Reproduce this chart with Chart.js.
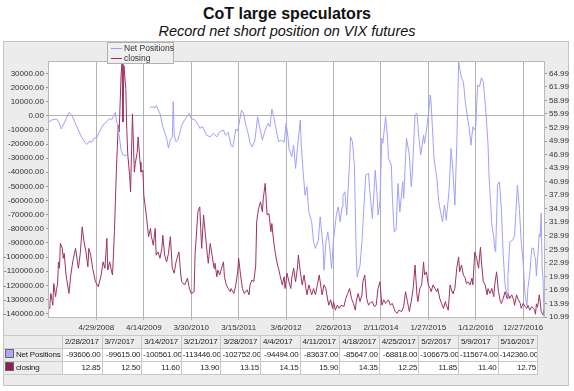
<!DOCTYPE html>
<html>
<head>
<meta charset="utf-8">
<script src="https://cdn.jsdelivr.net/npm/chart.js@4"></script>
<style>
  body { margin: 0; width: 574px; height: 391px; background: #fff; font-family: "Liberation Sans", Arial, sans-serif; position: relative; overflow: hidden; }
  #title { position: absolute; left: 0; top: 5px; width: 574px; text-align: center; font-weight: bold; font-size: 16px; color: #111; }
  #subtitle { position: absolute; left: 0; top: 23px; width: 574px; text-align: center; font-style: italic; font-size: 14.5px; color: #111; }
  #panel { position: absolute; left: 3px; top: 41px; width: 564px; height: 343px; background: #ececec; border: 1px solid #c4c4c4; }
  #chart { position: absolute; left: 0; top: 0; }
  #legend { position: absolute; left: 107px; top: 42px; width: 65px; height: 20px; background: #efefef; border: 1px solid #b0b0b0;
    font-size: 8.5px; color: #333; white-space: nowrap; }
  #legend div { height: 10px; line-height: 10px; position: relative; padding-left: 16px; }
  #legend span { position: absolute; left: 3px; top: 5px; width: 11px; height: 1px; }
  #table { position: absolute; left: 3px; top: 335px; border-collapse: collapse; table-layout: fixed; width: 534px;
    font-size: 8px; letter-spacing: -0.2px; color: #222; }
  #table td { border: 1px solid #c8c8c8; height: 12px; line-height: 12px; padding: 0 1px; white-space: nowrap; overflow: hidden; }
  #table td.num { background: #fff; text-align: right; }
  #table td.hd { text-align: left; padding-left: 2px; }
  #table td.lab { padding: 0 1px; }
  .sq { display: inline-block; width: 9px; height: 9px; vertical-align: -1px; margin-right: 2px; border: 1px solid #666; box-sizing: border-box; }
</style>
</head>
<body>
<div id="title">CoT large speculators</div>
<div id="subtitle">Record net short position on VIX futures</div>
<div id="panel"></div>
<canvas id="chart" width="574" height="391"></canvas>
<div id="legend">
  <div><span style="background:#9a9aff"></span>Net Positions</div>
  <div><span style="background:#9b2d5c"></span>closing</div>
</div>
<table id="table"></table>
<script>
// x = weeks since 5/15/2007 (weekly Tuesday data)
const xTickWeeks = [50, 100, 150, 200, 250, 300, 350, 400, 450, 500];
const xTickLabels = ['4/29/2008', '4/14/2009', '3/30/2010', '3/15/2011', '3/6/2012',
  '2/26/2013', '2/11/2014', '1/27/2015', '1/12/2016', '12/27/2016'];
const leftTicks = [30000, 20000, 10000, 0, -10000, -20000, -30000, -40000, -50000, -60000,
  -70000, -80000, -90000, -100000, -110000, -120000, -130000, -140000];
const rightTicks = [64.99, 61.99, 58.99, 55.99, 52.99, 49.99, 46.99, 43.99, 40.99, 37.99,
  34.99, 31.99, 28.99, 25.99, 22.99, 19.99, 16.99, 13.99, 10.99];

// last 12 weeks, shown in the table
const tableWeeks = [511, 512, 513, 514, 515, 516, 517, 518, 519, 520, 521, 522];
const tableDates = ['2/28/2017', '3/7/2017', '3/14/2017', '3/21/2017', '3/28/2017', '4/4/2017',
  '4/11/2017', '4/18/2017', '4/25/2017', '5/2/2017', '5/9/2017', '5/16/2017'];
const tableNet = [-93606, -99615, -100561, -113446, -102752, -94494, -83637, -85647, -68818, -106675, -115674, -142360];
const tableClose = [12.85, 12.50, 11.60, 13.90, 13.15, 14.15, 15.90, 14.35, 12.25, 11.85, 11.40, 12.75];

// Net Positions (left axis), null = missing data
const netWeeks = [0, 3, 8, 11, 13, 17, 21, 24, 27, 31, 34, 38, 40, 43, 45, 48, 50, 54, 57, 61,
  64, 66, 70, 71, 73, 76, 78, 82, 90, 106, 108, 112, 113, 117, 120, 124, 126, 128, 130, 131,
  132, 134, 136, 140, 143, 148, 150, 154, 157, 159, 162, 166, 170, 173, 177, 180, 184, 186, 189, 192,
  194, 197, 199, 203, 205, 208, 210, 212, 214, 217, 220, 222, 225, 228, 231, 233, 235, 237, 239, 242,
  245, 248, 250, 252, 253, 256, 258, 260, 262, 265, 266, 268, 270, 272, 274, 277, 279, 281, 284, 286,
  289, 290, 292, 294, 296, 298, 300, 303, 305, 307, 309, 310, 312, 314, 317, 318, 320, 322, 324, 325,
  328, 330, 332, 334, 337, 338, 341, 344, 346, 347, 349, 351, 352, 355, 357, 358, 361, 362, 364, 366,
  368, 370, 373, 374, 377, 380, 382, 383, 386, 388, 390, 392, 395, 396, 399, 401, 402, 403, 406, 409,
  411, 413, 415, 417, 419, 422, 424, 426, 428, 430, 432, 433, 435, 437, 439, 442, 443, 445, 447, 449,
  450, 452, 454, 456, 458, 461, 463, 464, 467, 469, 470, 471, 473, 475, 477, 479, 481, 483, 484, 486,
  489, 491, 494, 496, 498, 500, 502, 504, 505, 507, 509];
const netValues = [-4250, -3000, -2300, -5400, -9400, -3750, 2400, 500, -4250, -10100, -14900, -18800, -20300, -17900, -18800, -15600, -16000, -10100, -6600, -4200,
  -1900, -3000, 2400, -3000, -8900, -24300, -27800, -28300, null, 5200, 6400, 5700, 7100, 1700, -7800, -16000, -22700, -17200, -14900, 9900,
  -13700, -18400, -17200, -6600, -3000, 1700, -1900, -3000, -6100, -8900, -7800, -13700, -14900, -12500, -14900, -11300, -10100, -13700, -11800, -21200,
  -22000, -9400, -10800, 4000, 1700, -7800, -12500, -19500, -22000, -17900, -700, -7800, -17200, -10100, -5400, -7800, 4700, -700, -7800, -18400,
  -17200, -18800, -5400, -14900, -23100, -29000, -20800, -37300, -23100, -3000, -20800, -39700, -56200, -50300, -68000, -75100, -89200, -93900, -88000, -71500,
  -92700, -109300, -89200, -82200, -92700, -108100, -88000, -70300, -64400, -75100, -64400, -56200, -53800, -70300, -32600, -14900, -18400, -34900, -98700, -114000,
  -105700, -89200, -65600, -42000, -40800, -51400, -72700, -38500, -56200, -70300, -60900, -16000, -19500, -700, -16000, -30200, -34900, -56200, -82200, -80900,
  -47900, -68000, -46700, -58500, -16000, -27800, -50300, -42000, 500, 1700, -14900, -27800, -13700, -19500, -5400, 6400, 14700, 8800, -30200, -44300,
  -60900, -68000, -75100, -63200, -73900, -51400, -23100, -39700, -63200, -20800, 38000, 33600, 26500, 24100, 9900, -4200, -7800, -20800, -7800, -10100,
  -7800, 21700, 20500, 26900, 24100, 500, -20800, -42000, -77400, -85700, -93900, -96300, -49100, -46700, -65600, -98700, -119900, -127000, -112800, -89200,
  -88000, -84500, -49100, -65600, -89200, -103400, -127000, -134100, -122200, -111600, -93900];

// VIX closing (right axis)
const closeWeeks = [0, 1, 2, 4, 5, 7, 8, 9, 10, 11, 12, 14, 15, 16, 18, 21, 23, 25, 28, 30,
  31, 33, 35, 37, 39, 41, 42, 44, 46, 49, 52, 55, 57, 59, 61, 62, 64, 66, 67, 69,
  71, 73, 74, 76, 77, 78, 79, 81, 82, 83, 85, 86, 88, 90, 91, 93, 94, 96, 97, 99,
  100, 103, 105, 107, 108, 110, 112, 113, 115, 117, 119, 120, 122, 124, 126, 128, 130, 132, 134, 135,
  137, 139, 140, 143, 146, 148, 150, 153, 154, 157, 159, 160, 161, 163, 165, 167, 168, 170, 172, 174,
  175, 177, 178, 180, 182, 184, 185, 187, 189, 191, 192, 195, 197, 199, 200, 202, 204, 206, 209, 211,
  212, 214, 216, 218, 219, 221, 223, 225, 226, 228, 230, 232, 234, 235, 237, 239, 241, 242, 244, 246,
  248, 249, 251, 253, 255, 256, 258, 260, 262, 263, 265, 267, 269, 271, 272, 274, 276, 277, 279, 281,
  283, 285, 287, 288, 290, 292, 293, 295, 297, 299, 300, 302, 304, 306, 308, 311, 313, 315, 317, 319,
  321, 323, 324, 326, 328, 330, 331, 333, 335, 337, 338, 341, 343, 345, 347, 349, 351, 353, 355, 358,
  360, 362, 365, 367, 369, 372, 374, 376, 378, 380, 382, 384, 386, 388, 389, 391, 393, 395, 396, 398,
  400, 402, 403, 405, 407, 409, 410, 412, 414, 416, 418, 419, 421, 423, 425, 426, 428, 430, 432, 433,
  435, 437, 439, 440, 442, 444, 446, 447, 449, 451, 453, 455, 456, 458, 460, 462, 463, 465, 467, 469,
  470, 472, 474, 476, 477, 479, 481, 483, 484, 486, 488, 490, 491, 493, 495, 497, 498, 500, 502, 504,
  505, 507, 509];
const closeValues = [12.9, 14.0, 16.2, 13.6, 18.4, 15.5, 17.3, 18.1, 23.2, 21.8, 27.3, 26.2, 24.0, 25.1, 20.3, 16.2, 20.3, 23.2, 26.2, 23.2,
  21.8, 25.1, 30.97, 27.6, 25.4, 22.1, 26.2, 24.7, 21.8, 18.8, 17.7, 20.3, 23.2, 21.8, 28.4, 21.4, 23.2, 21.0, 20.3, 29.9,
  43.1, 53.5, 52.0, 64.6, 67.4, 54.2, 66.7, 61.6, 52.7, 47.2, 42.4, 38.7, 56.0, 43.1, 45.0, 47.5, 50.9, 45.3, 43.1, 43.5,
  38.0, 32.8, 28.8, 30.6, 28.8, 26.9, 30.6, 24.7, 25.4, 24.0, 26.2, 29.1, 24.7, 23.2, 25.1, 28.8, 21.8, 20.7, 23.2, 24.0,
  25.4, 20.3, 18.8, 18.1, 19.6, 17.3, 16.2, 16.6, 24.7, 34.3, 35.4, 30.6, 26.2, 33.6, 29.1, 24.7, 22.9, 27.3, 24.7, 21.8,
  22.9, 19.9, 21.4, 20.3, 21.8, 23.2, 19.9, 18.1, 17.3, 16.6, 17.3, 16.2, 18.1, 21.0, 24.0, 20.3, 17.3, 16.2, 17.0, 15.9,
  18.1, 19.2, 18.8, 22.5, 32.1, 35.0, 36.5, 34.3, 37.3, 40.6, 33.6, 33.9, 29.9, 31.7, 27.6, 24.7, 22.5, 21.8, 19.9, 18.1,
  19.9, 17.3, 20.7, 18.8, 17.3, 19.6, 21.8, 18.8, 21.8, 24.7, 21.0, 18.1, 20.3, 17.3, 15.9, 18.1, 16.6, 15.9, 17.3, 15.9,
  18.1, 20.3, 17.3, 15.9, 18.1, 17.3, 15.9, 13.6, 14.8, 12.9, 14.4, 12.5, 13.6, 12.9, 13.6, 13.3, 15.1, 16.2, 17.3, 15.1,
  14.0, 12.5, 14.4, 16.2, 14.4, 15.9, 18.8, 20.3, 15.1, 13.6, 14.0, 14.4, 13.3, 13.6, 17.3, 18.8, 13.6, 14.8, 14.0, 14.8,
  13.6, 14.0, 12.2, 11.8, 12.5, 12.2, 13.3, 16.6, 14.4, 12.2, 14.4, 17.3, 22.5, 15.9, 14.4, 17.3, 18.1, 23.2, 20.3, 21.0,
  18.1, 17.3, 16.6, 18.1, 17.3, 16.6, 17.3, 15.1, 14.0, 12.9, 14.4, 13.6, 12.5, 18.1, 16.6, 16.2, 17.3, 21.8, 24.3, 21.0,
  22.5, 20.3, 19.6, 18.4, 18.8, 18.1, 19.6, 18.1, 25.4, 24.0, 21.8, 26.5, 23.2, 18.8, 18.1, 15.9, 17.3, 16.2, 17.3, 15.5,
  18.1, 21.0, 16.6, 14.4, 14.0, 15.1, 16.6, 15.1, 16.2, 15.1, 15.9, 14.8, 13.6, 15.9, 14.8, 14.0, 12.9, 14.0, 13.3, 12.9,
  13.6, 12.5, 13.3];

const netData = netWeeks.map((w, i) => ({ x: w, y: netValues[i] }))
  .concat(tableWeeks.map((w, i) => ({ x: w, y: tableNet[i] })));
const closeData = closeWeeks.map((w, i) => ({ x: w, y: closeValues[i] }))
  .concat(tableWeeks.map((w, i) => ({ x: w, y: tableClose[i] })));

const tickFont = { family: 'Liberation Sans, Arial, sans-serif', size: 8 };

const plotBg = {
  id: 'plotBg',
  beforeDraw(chart) {
    const a = chart.chartArea, c = chart.ctx;
    c.save();
    c.fillStyle = '#ffffff';
    c.fillRect(a.left, a.top, a.right - a.left, a.bottom - a.top);
    c.restore();
  },
  afterDraw(chart) {
    const a = chart.chartArea, c = chart.ctx;
    c.save();
    c.strokeStyle = '#b8b8b8';
    c.lineWidth = 1;
    c.strokeRect(a.left - 0.5, a.top - 0.5, a.right - a.left + 1, a.bottom - a.top + 1);
    c.restore();
  }
};

new Chart(document.getElementById('chart').getContext('2d'), {
  type: 'line',
  data: {
    datasets: [{
      label: 'Net Positions',
      data: netData,
      yAxisID: 'yL',
      borderColor: '#a0a0ff',
      borderWidth: 1,
      pointRadius: 0,
      spanGaps: false
    }, {
      label: 'closing',
      data: closeData,
      yAxisID: 'yR',
      borderColor: '#9e3262',
      borderWidth: 1,
      pointRadius: 0
    }]
  },
  options: {
    responsive: false,
    animation: false,
    layout: { padding: { top: 62, bottom: 54, left: 0, right: 0 } },
    plugins: { legend: { display: false }, tooltip: { enabled: false } },
    scales: {
      x: {
        type: 'linear', min: 0, max: 522,
        afterBuildTicks: s => { s.ticks = xTickWeeks.map(v => ({ value: v })); },
        afterFit: s => { s.height = 20; },
        ticks: { autoSkip: false, maxRotation: 0, font: tickFont, color: '#333', padding: 3,
          callback: (v, i) => xTickLabels[i] },
        grid: { color: '#b4b4b4', tickLength: 3 },
        border: { display: false }
      },
      yL: {
        position: 'left', min: -142360, max: 38000,
        afterBuildTicks: s => { s.ticks = leftTicks.map(v => ({ value: v })); },
        afterFit: s => { s.width = 49; },
        ticks: { font: tickFont, color: '#333', padding: 2, callback: v => v.toFixed(2) },
        grid: { color: c => (c.tick && c.tick.value === 0) ? '#b4b4b4' : 'rgba(0,0,0,0)',
          tickColor: '#999', tickLength: 3 },
        border: { display: false }
      },
      yR: {
        position: 'right', min: 10.99, max: 67.5,
        afterBuildTicks: s => { s.ticks = rightTicks.map(v => ({ value: v })); },
        afterFit: s => { s.width = 30; },
        ticks: { font: tickFont, color: '#333', padding: 2, callback: v => v.toFixed(2) },
        grid: { drawOnChartArea: false, tickColor: '#999', tickLength: 3 },
        border: { display: false }
      }
    }
  },
  plugins: [plotBg]
});

// data table under the chart
const fmt = v => v.toFixed(2);
let html = '<colgroup><col style="width:59px">' + tableDates.map(() => '<col style="width:39.6px">').join('') + '</colgroup>';
html += '<tr><td class="lab"></td>' + tableDates.map(d => '<td class="hd">' + d + '</td>').join('') + '</tr>';
html += '<tr><td class="lab"><span class="sq" style="background:#a8a8ff"></span>Net Positions</td>' +
  tableNet.map(v => '<td class="num">' + fmt(v) + '</td>').join('') + '</tr>';
html += '<tr><td class="lab"><span class="sq" style="background:#8e1f50"></span>closing</td>' +
  tableClose.map(v => '<td class="num">' + fmt(v) + '</td>').join('') + '</tr>';
document.getElementById('table').innerHTML = html;
</script>
</body>
</html>
